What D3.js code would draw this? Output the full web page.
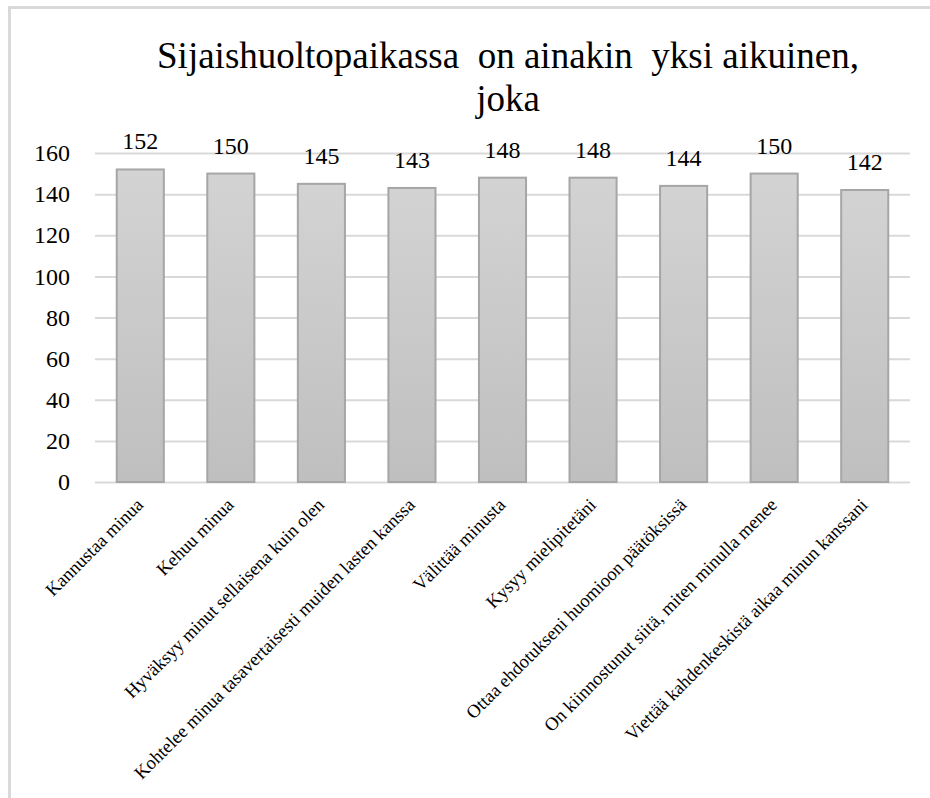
<html lang="fi">
<head>
<meta charset="utf-8">
<script src="https://d3js.org/d3.v7.min.js"></script>
<style>
  body { margin: 0; background: #fff; }
</style>
</head>
<body>
<svg id="chart" width="930" height="798"></svg>
<script>
var categories = [
  "Kannustaa minua",
  "Kehuu minua",
  "Hyväksyy minut sellaisena kuin olen",
  "Kohtelee minua tasavertaisesti muiden lasten kanssa",
  "Välittää minusta",
  "Kysyy mielipitetäni",
  "Ottaa ehdotukseni huomioon päätöksissä",
  "On kiinnostunut siitä, miten minulla menee",
  "Viettää kahdenkeskistä aikaa minun kanssani"
];
var values = [152, 150, 145, 143, 148, 148, 144, 150, 142];
var yTicks = [0, 20, 40, 60, 80, 100, 120, 140, 160];
var titleLines = ["Sijaishuoltopaikassa  on ainakin  yksi aikuinen,", "joka"];

var serif = "'Liberation Serif', 'DejaVu Serif', serif";
var svg = d3.select("#chart");

// kehys
svg.append("rect")
  .attr("x", 9.5).attr("y", 7.5)
  .attr("width", 1000).attr("height", 1000)
  .attr("fill", "none")
  .attr("stroke", "#d9d9d9")
  .attr("stroke-width", 3);

var defs = svg.append("defs");
var grad = defs.append("linearGradient")
  .attr("id", "barGrad")
  .attr("x1", 0).attr("y1", 0).attr("x2", 0).attr("y2", 1);
grad.append("stop").attr("offset", "0%").attr("stop-color", "#d3d3d3");
grad.append("stop").attr("offset", "100%").attr("stop-color", "#bfbfbf");

var xScale = d3.scaleBand()
  .domain(categories)
  .range([95, 910])
  .paddingInner(0.48)
  .paddingOuter(0.24);

var yScale = d3.scaleLinear()
  .domain([0, 160])
  .range([482, 153]);

// ruudukko
var yAxis = d3.axisLeft(yScale)
  .tickValues(yTicks)
  .tickSize(-815)
  .tickPadding(25);

var yAxisG = svg.append("g")
  .attr("transform", "translate(95, 0)")
  .call(yAxis);
yAxisG.select(".domain").remove();
yAxisG.selectAll(".tick line")
  .attr("stroke", "#d9d9d9")
  .attr("stroke-width", 2);
yAxisG.selectAll(".tick text")
  .style("font-family", serif)
  .style("font-size", "24px")
  .attr("fill", "#000");

// pylväät
svg.selectAll("rect.bar")
  .data(values)
  .enter()
  .append("rect")
  .attr("class", "bar")
  .attr("x", (d, i) => xScale(categories[i]))
  .attr("y", d => yScale(d))
  .attr("width", xScale.bandwidth())
  .attr("height", d => yScale(0) - yScale(d))
  .attr("fill", "url(#barGrad)")
  .attr("stroke", "#a6a6a6")
  .attr("stroke-width", 2);

// arvot
svg.selectAll("text.val")
  .data(values)
  .enter()
  .append("text")
  .attr("class", "val")
  .attr("x", (d, i) => xScale(categories[i]) + xScale.bandwidth() / 2)
  .attr("y", d => yScale(d) - 20)
  .attr("text-anchor", "middle")
  .style("font-family", serif)
  .style("font-size", "24px")
  .text(d => d);

// x-akselin nimet
var xAxisG = svg.append("g")
  .attr("transform", "translate(0, 482)")
  .call(d3.axisBottom(xScale).tickSize(0).tickPadding(0));
xAxisG.select(".domain").remove();
xAxisG.selectAll(".tick text")
  .style("font-family", serif)
  .style("font-size", "18.5px")
  .attr("fill", "#000")
  .attr("text-anchor", "end")
  .attr("dy", null)
  .attr("y", 0)
  .attr("transform", "translate(4, 24) rotate(-45)");

// otsikko
svg.selectAll("text.title")
  .data(titleLines)
  .enter()
  .append("text")
  .attr("class", "title")
  .attr("x", 508)
  .attr("y", (d, i) => 68 + i * 43)
  .attr("text-anchor", "middle")
  .style("font-family", serif)
  .style("font-size", "37px")
  .style("white-space", "pre")
  .text(d => d);
</script>
</body>
</html>
